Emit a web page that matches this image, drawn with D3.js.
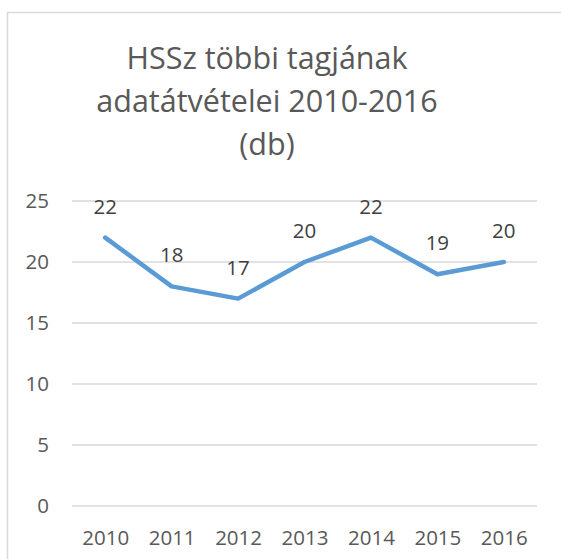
<!DOCTYPE html>
<html>
<head>
<meta charset="utf-8">
<script src="https://cdn.jsdelivr.net/npm/d3@7"></script>
<style>
  html, body { margin: 0; padding: 0; background: #fff; }
  svg { display: block; }
</style>
</head>
<body>
<svg id="chart" width="561" height="559"></svg>
<script>
const titleLines = ["HSSz többi tagjának", "adatátvételei 2010-2016", "(db)"];
const years = ["2010", "2011", "2012", "2013", "2014", "2015", "2016"];
const values = [22, 18, 17, 20, 22, 19, 20];
const yTicks = [0, 5, 10, 15, 20, 25];

const font = "'Open Sans', 'Noto Sans', sans-serif";
const svg = d3.select("#chart");

// outer chart border (cropped on right/bottom)
svg.append("rect")
  .attr("x", 7.5).attr("y", 12.5)
  .attr("width", 600).attr("height", 600)
  .attr("fill", "#fff").attr("stroke", "#d9d9d9").attr("stroke-width", 1.5);

const plot = { left: 72, right: 537, top: 201, bottom: 506 };

const x = d3.scalePoint().domain(years).range([plot.left, plot.right]).padding(0.5);
const y = d3.scaleLinear().domain([0, 25]).range([plot.bottom, plot.top]);

// title
const title = svg.append("text")
  .attr("text-anchor", "middle")
  .attr("font-family", font)
  .attr("font-size", 30.5)
  .attr("fill", "#595959");
titleLines.forEach((t, i) => {
  title.append("tspan").attr("x", 267).attr("y", 69 + i * 43).text(t);
});

// gridlines
svg.append("g").selectAll("line").data(yTicks).join("line")
  .attr("x1", plot.left).attr("x2", plot.right)
  .attr("y1", d => y(d)).attr("y2", d => y(d))
  .attr("stroke", "#d9d9d9").attr("stroke-width", 1.5);

// y axis
const yAxis = svg.append("g")
  .attr("transform", `translate(${plot.left - 23},0)`)
  .call(d3.axisLeft(y).tickValues(yTicks).tickSize(0).tickPadding(0));
yAxis.select(".domain").remove();
yAxis.selectAll("text")
  .attr("font-family", font).attr("font-size", 20.5).attr("fill", "#595959");

// x axis
const xAxis = svg.append("g")
  .attr("transform", `translate(0,${plot.bottom + 24})`)
  .call(d3.axisBottom(x).tickSize(0).tickPadding(0));
xAxis.select(".domain").remove();
xAxis.selectAll("text")
  .attr("font-family", font).attr("font-size", 20.5).attr("fill", "#595959");

// line
const line = d3.line().x((d, i) => x(years[i])).y(d => y(d));
svg.append("path")
  .datum(values)
  .attr("d", line)
  .attr("fill", "none")
  .attr("stroke", "#5b9bd5")
  .attr("stroke-width", 4.5)
  .attr("stroke-linejoin", "round")
  .attr("stroke-linecap", "round");

// data labels
svg.append("g").selectAll("text").data(values).join("text")
  .attr("x", (d, i) => x(years[i]))
  .attr("y", d => y(d) - 24)
  .attr("text-anchor", "middle")
  .attr("font-family", font).attr("font-size", 20.5)
  .attr("fill", "#404040")
  .text(d => d);
</script>
</body>
</html>
